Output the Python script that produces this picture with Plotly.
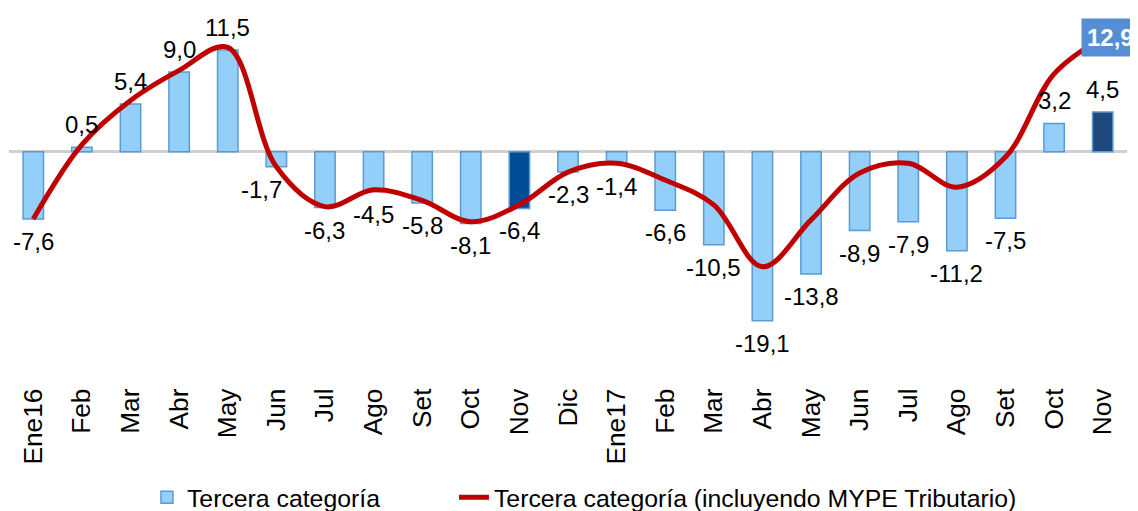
import plotly.graph_objects as go

months = ["Ene16", "Feb", "Mar", "Abr", "May", "Jun", "Jul", "Ago", "Set", "Oct", "Nov", "Dic",
          "Ene17", "Feb", "Mar", "Abr", "May", "Jun", "Jul", "Ago", "Set", "Oct", "Nov"]
tercera = [-7.6, 0.5, 5.4, 9.0, 11.5, -1.7, -6.3, -4.5, -5.8, -8.1, -6.4, -2.3,
           -1.4, -6.6, -10.5, -19.1, -13.8, -8.9, -7.9, -11.2, -7.5, 3.2, 4.5]
tercera_mype = [-7.6, 0.8, 5.8, 9.2, 11.8, -1.7, -6.2, -4.3, -5.5, -7.9, -6.0, -2.3,
                -1.3, -3.2, -6.0, -13.0, -7.7, -2.4, -1.3, -4.0, -0.6, 8.8, 12.9]

FONT = "Liberation Sans, Arial, sans-serif"
x = list(range(len(months)))

light = "#93CFF8"
bar_colors = [light] * len(months)
bar_colors[10] = "#024C98"
bar_colors[22] = "#1F487C"

fig = go.Figure()
fig.add_trace(go.Bar(
    x=x, y=tercera, name="Tercera categoría",
    marker=dict(color=bar_colors, line=dict(color="#5B9BD5", width=1.5)),
    width=0.42, legend="legend",
))
fig.add_trace(go.Scatter(
    x=x, y=tercera_mype, name="Tercera categoría (incluyendo MYPE Tributario)",
    mode="lines", line=dict(color="#C00000", width=5, shape="spline", smoothing=1.0),
    legend="legend2",
))

def fmt(v):
    return f"{v:.1f}".replace(".", ",")

annotations = []
for i, v in enumerate(tercera):
    xs = -15 if i == 5 else 0
    if v >= 0:
        annotations.append(dict(x=i, y=v, text=fmt(v), showarrow=False, yanchor="bottom",
                                yshift=7, xshift=xs, font=dict(family=FONT, size=24, color="#000000")))
    else:
        annotations.append(dict(x=i, y=v, text=fmt(v), showarrow=False, yanchor="top",
                                yshift=-7, xshift=xs, font=dict(family=FONT, size=24, color="#000000")))

last = len(months) - 1
annotations.append(dict(x=last, y=tercera_mype[last], text="<b>" + fmt(tercera_mype[last]) + "</b>",
                        showarrow=False, xanchor="left", yanchor="middle", xshift=-22,
                        bgcolor="#558ED5", borderpad=5,
                        font=dict(family=FONT, size=24, color="#FFFFFF")))

legend_font = dict(family=FONT, size=24.8, color="#000000")
fig.update_layout(
    width=1130, height=503,
    margin=dict(l=1, r=11, t=11, b=138, autoexpand=False),
    paper_bgcolor="white", plot_bgcolor="white",
    font=dict(family=FONT, color="#000000"),
    showlegend=True,
    legend=dict(orientation="h", x=0.1234, xanchor="left", y=-0.352, yanchor="middle",
                font=legend_font, bgcolor="rgba(0,0,0,0)"),
    legend2=dict(orientation="h", x=0.398, xanchor="left", y=-0.352, yanchor="middle",
                 font=legend_font, bgcolor="rgba(0,0,0,0)"),
    annotations=annotations,
    bargap=0.5,
)
fig.update_xaxes(range=[-0.5, len(months) - 0.5], tickmode="array", tickvals=x, ticktext=months,
                 tickangle=-90, tickfont=dict(family=FONT, size=26.3, color="#000000"),
                 showgrid=False, showline=False, zeroline=False, automargin=False,
                 ticks="outside", ticklen=4, tickcolor="rgba(0,0,0,0)")
fig.update_yaxes(range=[-25, 15], showgrid=False, showticklabels=False, showline=False,
                 zeroline=True, zerolinecolor="#D0D0D0", zerolinewidth=3, automargin=False)

fig.write_html("out.html")
